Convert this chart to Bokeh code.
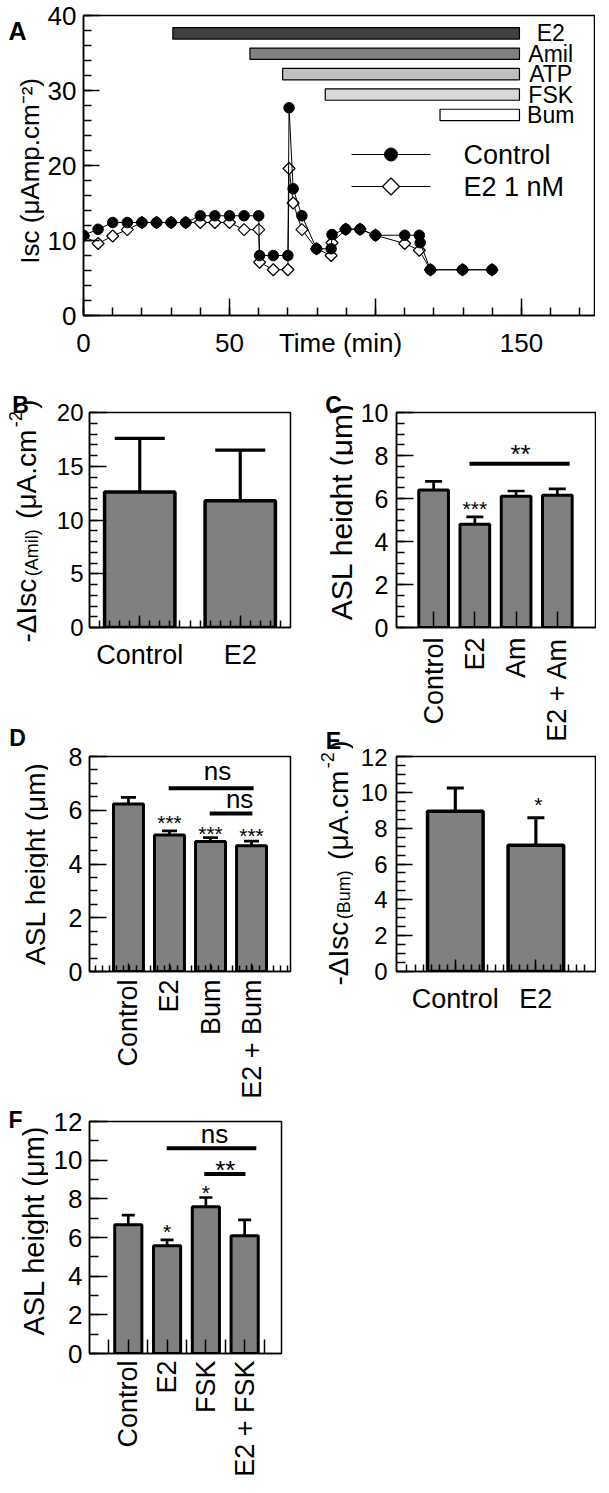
import math
import numpy as np
from bokeh.plotting import figure
from bokeh.models import (ColumnDataSource, FixedTicker, Label, Whisker, TeeHead,
                          Range1d, LinearAxis)
from bokeh.layouts import column, row
from bokeh.embed import file_html
from bokeh.resources import INLINE

FONT = "Liberation Sans"

# ---------------- data ----------------
# Panel A: Isc time courses
ctrl_time = [0, 5, 10, 15, 20, 25, 30, 35, 40, 45, 50, 55, 60, 60.3, 65, 70, 70.4, 71.8,
             74.8, 79.8, 84.8, 85.1, 89.8, 94.7, 100, 110, 115, 115.3, 118.8, 129.8, 139.9]
ctrl_isc = [10.7, 11.5, 12.4, 12.4, 12.4, 12.4, 12.4, 12.4, 13.3, 13.3, 13.3, 13.3, 13.3,
            8.0, 8.0, 8.0, 27.7, 16.9, 13.3, 8.9, 8.9, 10.8, 11.5, 11.5, 10.7, 10.7, 10.7,
            9.7, 6.1, 6.1, 6.1]
e2_time = [0, 5, 10, 15, 20, 25, 30, 35, 40, 45, 50, 55, 60, 60.3, 65, 70, 70.4, 71.8,
           74.8, 79.8, 84.8, 85.1, 89.8, 94.7, 100, 110, 115, 118.8, 129.8, 139.9]
e2_isc = [10.6, 9.6, 10.6, 11.45, 12.4, 12.4, 12.4, 12.4, 12.4, 12.4, 12.4, 11.45, 11.45,
          7.1, 6.1, 6.1, 19.6, 15.0, 11.45, 8.9, 8.0, 9.7, 11.5, 11.5, 10.7, 9.6, 8.7,
          6.1, 6.1, 6.1]
series_names = ["Control", "E2 1 nM"]
treat_names = ["E2", "Amil", "ATP", "FSK", "Bum"]
treat_start = [30.6, 57.0, 68.2, 82.8, 122.1]
treat_end = [149.3, 149.3, 149.3, 149.3, 149.3]
treat_colors = ["#404040", "#808080", "#bfbfbf", "#d9d9d9", "#ffffff"]

# Panel B
b_labels = ["Control", "E2"]
b_mean = [12.6, 11.8]
b_upper = [17.6, 16.5]

# Panel C
c_labels = ["Control", "E2", "Am", "E2 + Am"]
c_mean = [6.4, 4.8, 6.1, 6.15]
c_upper = [6.8, 5.15, 6.35, 6.45]

# Panel D
d_labels = ["Control", "E2", "Bum", "E2 + Bum"]
d_mean = [6.23, 5.08, 4.84, 4.68]
d_upper = [6.48, 5.23, 4.98, 4.85]

# Panel E
e_labels = ["Control", "E2"]
e_mean = [8.95, 7.05]
e_upper = [10.24, 8.58]

# Panel F
f_labels = ["Control", "E2", "FSK", "E2 + FSK"]
f_mean = [6.66, 5.57, 7.59, 6.09]
f_upper = [7.16, 5.88, 8.07, 6.91]

# ---------------- helpers ----------------
AW = {' ': 278, '-': 333, '(': 333, ')': 333, '.': 278, '2': 556, '1': 556, 'A': 667,
      'B': 667, 'I': 278, 'L': 556, 'S': 667, 'a': 556, 'c': 500, 'e': 556, 'g': 556,
      'h': 556, 'i': 222, 'l': 222, 'm': 833, 'n': 556, 'p': 556, 's': 500, 't': 278,
      'u': 556, 'Δ': 668, 'μ': 576}


def tw(s, size):
    return sum(AW.get(ch, 556) for ch in s) * size / 1000.0


def label(p, x, y, s, size, bold=False, align="center", baseline="middle", angle=0.0):
    p.add_layout(Label(x=x, y=y, text=s, text_font=FONT, text_font_size=f"{int(size)}px",
                       text_font_style="bold" if bold else "normal", text_align=align,
                       text_baseline=baseline, angle=angle, text_color="black"))


class Strip:
    """A plain text strip (no axes) whose data units are page pixels."""
    def __init__(self, page_x, page_y, w, h):
        self.px, self.py = page_x, page_y
        p = figure(width=w, height=h, x_range=Range1d(0, w), y_range=Range1d(h, 0),
                   min_border=0, toolbar_location=None, tools="",
                   x_axis_location=None, y_axis_location=None, output_backend="svg")
        p.grid.visible = False
        p.outline_line_color = None
        p.background_fill_color = "white"
        p.border_fill_color = "white"
        self.p = p

    def text(self, px, py, s, size, **kw):
        label(self.p, px - self.px, py - self.py, s, size, **kw)

    def vtitle(self, base_px, start_py, pieces, size, scale=0.65, gap=2.5):
        """Vertical title read bottom-to-top, with sub/superscript pieces."""
        py = start_py
        for s, kind in pieces:
            if kind == "n":
                fs, shift = size, 0.0
            elif kind == "sub":
                fs, shift = int(round(size * scale)), 0.2 * size
            else:
                fs, shift = int(round(size * scale)), -0.4 * size
            w = tw(s.strip(), fs)
            lead = tw(s, fs) - tw(s.lstrip(), fs)
            self.text(base_px + shift, py - lead - w / 2, s.strip(), fs,
                      align="center", baseline="alphabetic", angle=math.pi / 2)
            py -= tw(s, fs) + gap


class Panel:
    def __init__(self, page_x, page_y, bl, fw, br, bt, fh, bb, xr, yr):
        self.fl = page_x + bl
        self.ft = page_y + bt
        self.fw, self.fh = fw, fh
        self.xr, self.yr = xr, yr
        p = figure(width=bl + fw + br, height=bt + fh + bb, frame_width=fw, frame_height=fh,
                   x_range=Range1d(*xr), y_range=Range1d(*yr),
                   min_border_left=bl, min_border_right=br, min_border_top=bt,
                   min_border_bottom=bb, toolbar_location=None, tools="",
                   output_backend="svg")
        p.grid.visible = False
        p.outline_line_color = "black"
        p.outline_line_width = 1.5
        p.outline_line_alpha = 1.0
        p.background_fill_color = "white"
        p.border_fill_color = "white"
        for ax in (p.xaxis[0], p.yaxis[0]):
            style_axis(ax)
        self.p = p

    def X(self, px):
        return self.xr[0] + (px - self.fl) * (self.xr[1] - self.xr[0]) / self.fw

    def Y(self, py):
        return self.yr[0] + (self.ft + self.fh - py) * (self.yr[1] - self.yr[0]) / self.fh

    def ppu(self):
        return self.fh / (self.yr[1] - self.yr[0])


def style_axis(ax):
    ax.axis_line_width = 1.5
    ax.axis_line_color = "black"
    ax.major_tick_line_width = 1.5
    ax.minor_tick_line_width = 1.5
    ax.major_tick_out = 0
    ax.minor_tick_out = 0
    ax.major_label_text_font = FONT
    ax.major_label_text_color = "black"


def bars(P, labels, mean, upper, width, lw, cap, tick_in, minor, minor_in, rotate,
         lab_size, standoff, tick_size):
    p = P.p
    xs = list(range(1, len(labels) + 1))
    p.vbar(x=xs, top=mean, bottom=0, width=width, fill_color="#808080",
           line_color="black", line_width=lw)
    src = ColumnDataSource(dict(x=xs, lo=mean, hi=upper))
    w = Whisker(base="x", lower="lo", upper="hi", source=src, line_width=lw * 0.9,
                line_color="black", upper_head=TeeHead(size=cap, line_width=lw * 0.9,
                                                       line_color="black"),
                lower_head=None, level="annotation")
    p.add_layout(w)
    ax = p.xaxis[0]
    ax.ticker = FixedTicker(ticks=xs, minor_ticks=list(minor))
    ax.major_label_overrides = {x: l for x, l in zip(xs, labels)}
    ax.major_tick_in = tick_in
    ax.minor_tick_in = minor_in
    ax.major_label_text_font_size = f"{lab_size}px"
    ax.major_label_standoff = standoff
    if rotate:
        ax.major_label_orientation = math.pi / 2
    ay = p.yaxis[0]
    ay.major_label_text_font_size = f"{tick_size}px"


def yaxis_cfg(P, ticks, minor, maj_in, min_in, standoff):
    ay = P.p.yaxis[0]
    ay.ticker = FixedTicker(ticks=list(ticks), minor_ticks=list(minor))
    ay.major_tick_in = maj_in
    ay.minor_tick_in = min_in
    ay.major_label_standoff = standoff


def sig_line(P, x0, x1, y, lw=4):
    P.p.segment(x0=[x0], y0=[y], x1=[x1], y1=[y], line_color="black", line_width=lw)


def sig_text(P, x, y_visual, s, size):
    # stars sit high in the em box, "ns" sits low: shift the anchor so the ink lands on y
    em = 0.25 if "*" in s else -0.08
    label(P.p, x, y_visual - em * size / P.ppu(), s, size)


# ---------------- Panel A ----------------
SA = Strip(8, 8, 44, 365)
A = Panel(52, 8, 37, 511, 1, 15, 300, 50, (0, 175), (0, 40))
pA = A.p
ty = [37.62 - 2.72 * i for i in range(len(treat_names))]
pA.hbar(y=ty, left=treat_start, right=treat_end, height=1.52, fill_color=treat_colors,
        line_color="black", line_width=1.2)
for nm, yy in zip(treat_names, ty):
    label(pA, 160, yy, nm, 23)
pA.line(e2_time, e2_isc, line_color="black", line_width=1)
pA.scatter(e2_time, e2_isc, marker="square", angle=math.pi / 4, size=8.5,
           fill_color="white", line_color="black", line_width=1.2)
pA.line(ctrl_time, ctrl_isc, line_color="black", line_width=1)
pA.scatter(ctrl_time, ctrl_isc, marker="circle", size=10.5, fill_color="black",
           line_color="black")
# key (legend) drawn at the reference's place
kx0, kx1, ktx = A.X(357), A.X(436), A.X(469)
ky = [A.Y(162), A.Y(194)]
pA.segment(x0=[kx0, kx0], y0=ky, x1=[kx1, kx1], y1=ky, line_color="black", line_width=1.2)
pA.scatter(x=[(kx0 + kx1) / 2], y=[ky[0]], marker="circle", size=13, fill_color="black",
           line_color="black")
pA.scatter(x=[(kx0 + kx1) / 2], y=[ky[1]], marker="square", angle=math.pi / 4, size=12,
           fill_color="white", line_color="black", line_width=1.3)
for nm, yy in zip(series_names, ky):
    label(pA, ktx, yy, nm, 27, align="left")

ax1 = pA.xaxis[0]
ax1.ticker = FixedTicker(ticks=[0, 50, 100, 150], minor_ticks=list(range(0, 176, 10)))
ax1.major_label_overrides = {0: "", 50: "", 100: "", 150: ""}
ax1.major_label_text_font_size = "1px"
ax1.major_label_standoff = 0
ax1.major_tick_in = 17
ax1.minor_tick_in = 8
time_tick = A.X(346)
ax2 = LinearAxis(ticker=FixedTicker(ticks=[0, 50, time_tick, 150], minor_ticks=[]),
                 major_label_overrides={0: "0", 50: "50", time_tick: "Time (min)",
                                        150: "150"})
style_axis(ax2)
ax2.axis_line_color = None
ax2.major_tick_in = 0
ax2.minor_tick_in = 0
ax2.major_label_text_font_size = "26px"
ax2.major_label_standoff = 12
pA.add_layout(ax2, "below")
yaxis_cfg(A, [0, 10, 20, 30, 40], range(0, 41, 2), 16, 8, 7)
pA.yaxis[0].major_label_text_font_size = "26px"
SA.text(37, 197, "Isc (μAmp.cm⁻²)", 26, baseline="alphabetic", angle=math.pi / 2)
SA.text(25, 27, "A", 25, bold=True)

# ---------------- left column strip + B, D, F ----------------
SL = Strip(8, 373, 48, 1112)
SR = Strip(308, 373, 50, 1112)

B = Panel(56, 373, 33, 201, 18, 47, 215, 65, (0.5, 2.5), (0, 20))
bars(B, b_labels, b_mean, b_upper, 0.7, 3.5, 50, 12, np.arange(0.6, 2.45, 0.1), 7,
     False, 27, 12, 24)
yaxis_cfg(B, [0, 5, 10, 15, 20], range(0, 21), 17, 8, 6)
SL.vtitle(34, 650, [("-ΔIsc", "n"), ("(Amil)", "sub"), (" (μA.cm", "n"), ("-2", "sup"),
                    (")", "n")], 28)
SL.text(28, 412, "B", 23, bold=True)

D = Panel(56, 700, 33, 201, 18, 64, 215, 133, (0.05, 4.95), (0, 8))
bars(D, d_labels, d_mean, d_upper, 0.73, 3, 15, 8, np.arange(0.2, 4.9, 1 / 6), 6, True,
     27, 8, 25)
yaxis_cfg(D, [0, 2, 4, 6, 8], np.arange(0, 8.01, 0.5), 17, 8, 7)
sig_line(D, 1.98, 4.05, 6.82)
sig_text(D, 3.17, 7.4, "ns", 26)
sig_line(D, 2.98, 4.02, 5.88)
sig_text(D, 3.71, 6.35, "ns", 26)
sig_text(D, 2, 5.73, "***", 21)
sig_text(D, 3, 5.34, "***", 21)
sig_text(D, 4, 5.26, "***", 21)
SL.text(43, 871, "ASL height (μm)", 28, baseline="alphabetic", angle=math.pi / 2)
SL.text(25, 745, "D", 23, bold=True)

F = Panel(56, 1112, 41, 192, 19, 17, 232, 124, (0.0, 4.95), (0, 12))
bars(F, f_labels, f_mean, f_upper, 0.7, 3, 13, 14, np.arange(0.5, 4.6, 1.0), 14, True,
     27, 7, 26)
yaxis_cfg(F, [0, 2, 4, 6, 8, 10, 12], range(0, 13), 18, 9, 7)
sig_line(F, 1.99, 4.3, 10.62)
sig_text(F, 3.22, 11.26, "ns", 26)
sig_line(F, 2.96, 4.02, 9.28)
sig_text(F, 3.5, 9.84, "**", 26)
sig_text(F, 2, 6.6, "*", 21)
sig_text(F, 3, 8.62, "*", 21)
SL.text(41, 1238, "ASL height (μm)", 29, baseline="alphabetic", angle=math.pi / 2)
SL.text(23, 1127, "F", 23, bold=True)

# ---------------- right column strip + C, E ----------------
C = Panel(358, 373, 42, 200, 1, 47, 215, 121, (0.1, 4.95), (0, 10))
bars(C, c_labels, c_mean, c_upper, 0.72, 3, 17, 16, [], 0, True, 27, 10, 25)
yaxis_cfg(C, [0, 2, 4, 6, 8, 10], np.arange(0, 10.01, 0.5), 17, 8, 8)
sig_line(C, 1.87, 4.3, 7.62)
sig_text(C, 3.11, 8.35, "**", 26)
sig_text(C, 2.0, 5.8, "***", 21)
SR.text(346, 519, "ASL height (μm)", 30, baseline="alphabetic", angle=math.pi / 2)
SR.text(338, 412, "C", 23, bold=True)

E = Panel(358, 756, 43, 199, 1, 8, 215, 60, (0.27, 2.74), (0, 12))
bars(E, e_labels, e_mean, e_upper, 0.69, 3.5, 17, 12, np.arange(0.4, 2.7, 0.1), 7,
     False, 27, 12, 24)
yaxis_cfg(E, [0, 2, 4, 6, 8, 10, 12], np.arange(0, 12.01, 0.5), 16, 9, 9)
sig_text(E, 2.03, 9.6, "*", 21)
SR.vtitle(343, 993, [("-ΔIsc", "n"), ("(Bum)", "sub"), (" (μA.cm", "n"), ("-2", "sup"),
                     (")", "n")], 28)
SR.text(338, 748, "E", 23, bold=True)

layout = column(row(SA.p, A.p),
                row(SL.p, column(B.p, D.p, F.p), SR.p, column(C.p, E.p)))
open("out.html", "w").write(file_html(layout, INLINE))
